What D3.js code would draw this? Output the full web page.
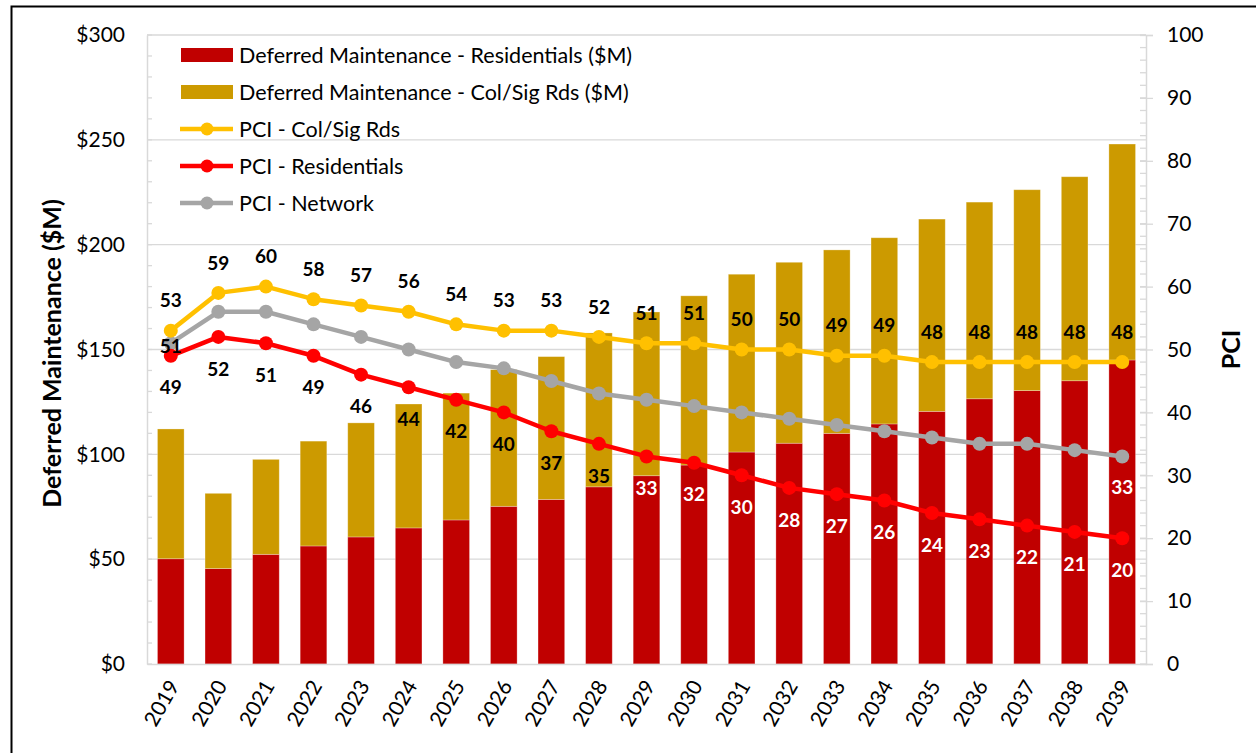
<!DOCTYPE html>
<html><head><meta charset="utf-8">
<script src="https://cdn.jsdelivr.net/npm/d3@7"></script>
<style>
html,body{margin:0;padding:0;background:#fff;}
svg{display:block;font-family:Lato,"Open Sans",sans-serif;}
</style></head>
<body>
<svg id="chart" width="1256" height="753"></svg>
<script>
const years = ["2019","2020","2021","2022","2023","2024","2025","2026","2027","2028","2029","2030","2031","2032","2033","2034","2035","2036","2037","2038","2039"];
const dmResidentials = [50.2,45.5,52.3,56.3,60.6,64.9,68.7,75.2,78.5,84.5,89.8,94.9,101.1,105.3,110.0,114.5,120.5,126.5,130.4,135.1,145.0];
const dmColSig = [61.9,35.9,45.3,50.0,54.4,59.1,60.5,65.2,68.1,73.4,78.1,80.7,84.8,86.3,87.5,88.8,91.7,93.8,95.8,97.3,103.0];
const pciColSig = [53,59,60,58,57,56,54,53,53,52,51,51,50,50,49,49,48,48,48,48,48];
const pciResidentials = [49,52,51,49,46,44,42,40,37,35,33,32,30,28,27,26,24,23,22,21,20];
const pciNetwork = [51,56,56,54,52,50,48,47,45,43,42,41,40,39,38,37,36,35,35,34,33];
const leftTicks = [0,50,100,150,200,250,300];
const rightTicks = [0,10,20,30,40,50,60,70,80,90,100];
const legendItems = ["Deferred Maintenance - Residentials ($M)","Deferred Maintenance - Col/Sig Rds ($M)","PCI - Col/Sig Rds","PCI - Residentials","PCI - Network"];

const C = {res:"#C00000", col:"#CC9A00", lYel:"#FFC000", lRed:"#FF0000", lGry:"#A5A5A5", grid:"#D9D9D9"};
const L = 147, R = 1146, T = 35, B = 664;

const svg = d3.select("#chart");
// outer border
svg.append("path").attr("d","M11.5,760 L11.5,6.5 L1260,6.5").attr("fill","none").attr("stroke","#000").attr("stroke-width",2);

const x = d3.scaleBand().domain(years).range([L,R]).paddingInner(0.44).paddingOuter(0.22);
const yL = d3.scaleLinear().domain([0,300]).range([B,T]);
const yR = d3.scaleLinear().domain([0,100]).range([B,T]);
const cx = d => x(d) + x.bandwidth()/2;

// gridlines
svg.append("g").selectAll("line").data(leftTicks.filter(v=>v>0)).join("line")
  .attr("x1",L).attr("x2",R).attr("y1",d=>yL(d)).attr("y2",d=>yL(d))
  .attr("stroke",C.grid).attr("stroke-width",1.3);

// left axis
const gL = svg.append("g").attr("transform",`translate(${L},0)`)
  .call(d3.axisLeft(yL).tickValues(leftTicks).tickSize(0).tickPadding(22).tickFormat(d=>"$"+d));
gL.select(".domain").attr("stroke",C.grid).attr("stroke-width",1.5);
gL.selectAll("text").attr("font-size","21px").attr("font-family","Lato").attr("fill","#000");
svg.append("g").selectAll("line").data(d3.range(0,301,10)).join("line")
  .attr("x1",L).attr("x2",L+5).attr("y1",d=>yL(d)).attr("y2",d=>yL(d))
  .attr("stroke",C.grid).attr("stroke-width",1.3);

// right axis
const gR = svg.append("g").attr("transform",`translate(${R},0)`)
  .call(d3.axisRight(yR).tickValues(rightTicks).tickSize(7).tickPadding(14));
gR.select(".domain").attr("stroke",C.grid).attr("stroke-width",1.5);
gR.selectAll(".tick line").attr("stroke",C.grid).attr("stroke-width",1.3).attr("x1",-6);
gR.selectAll("text").attr("font-size","21px").attr("font-family","Lato").attr("fill","#000");
svg.append("g").selectAll("line").data(d3.range(0,101,2)).join("line")
  .attr("x1",R-6).attr("x2",R).attr("y1",d=>yR(d)).attr("y2",d=>yR(d))
  .attr("stroke",C.grid).attr("stroke-width",1.3);

// bars
const gb = svg.append("g");
years.forEach((yr,i)=>{
  gb.append("rect").attr("x",x(yr)).attr("width",x.bandwidth())
    .attr("y",yL(dmResidentials[i])).attr("height",B-yL(dmResidentials[i]))
    .attr("fill",C.res).attr("stroke","#fff").attr("stroke-opacity",0.35).attr("stroke-width",0.8);
  gb.append("rect").attr("x",x(yr)).attr("width",x.bandwidth())
    .attr("y",yL(dmResidentials[i]+dmColSig[i])).attr("height",yL(dmResidentials[i])-yL(dmResidentials[i]+dmColSig[i]))
    .attr("fill",C.col).attr("stroke","#fff").attr("stroke-opacity",0.35).attr("stroke-width",0.8);
});

// bottom axis
const gX = svg.append("g").attr("transform",`translate(0,${B})`)
  .call(d3.axisBottom(x).tickSize(0).tickFormat(""));
gX.select(".domain").attr("stroke",C.grid).attr("stroke-width",1.5);
svg.append("g").selectAll("text").data(years).join("text")
  .attr("transform",d=>`translate(${cx(d)+3},${B+18}) rotate(-60)`)
  .attr("text-anchor","end").attr("dy","0.35em")
  .attr("font-size","21px").attr("fill","#000").text(d=>d);

// lines
function drawLine(vals,color){
  const g = svg.append("g");
  g.append("path").datum(vals).attr("fill","none").attr("stroke",color).attr("stroke-width",4.5)
    .attr("stroke-linejoin","round")
    .attr("d",d3.line().x((d,i)=>cx(years[i])).y(d=>yR(d)));
  g.selectAll("circle").data(vals).join("circle")
    .attr("cx",(d,i)=>cx(years[i])).attr("cy",d=>yR(d)).attr("r",7).attr("fill",color);
}
drawLine(pciNetwork,C.lGry);
drawLine(pciResidentials,C.lRed);
drawLine(pciColSig,C.lYel);

// data labels
const lbl = svg.append("g").attr("font-weight","bold").attr("font-size","19px").attr("text-anchor","middle");
function labelColor(i,yPos){ return yPos > yL(dmResidentials[i]) ? "#fff" : "#000"; }
pciColSig.forEach((v,i)=>{
  lbl.append("text").attr("x",cx(years[i])).attr("y",yR(v)-30).attr("dy","0.35em").attr("fill","#000").text(v);
});
pciResidentials.forEach((v,i)=>{
  const yy = yR(v)+32;
  lbl.append("text").attr("x",cx(years[i])).attr("y",yy).attr("dy","0.35em").attr("fill",labelColor(i,yy)).text(v);
});
[[0,3],[pciNetwork.length-1,31]].forEach(([i,off])=>{
  const yy = yR(pciNetwork[i])+off;
  lbl.append("text").attr("x",cx(years[i])).attr("y",yy).attr("dy","0.35em").attr("fill",labelColor(i,yy)).text(pciNetwork[i]);
});

// axis titles
svg.append("text").attr("transform",`translate(52,${(T+B)/2+4}) rotate(-90)`)
  .attr("text-anchor","middle").attr("dy","0.35em").attr("font-weight","bold").attr("font-size","25px").text("Deferred Maintenance ($M)");
svg.append("text").attr("transform",`translate(1231,${(T+B)/2}) rotate(-90)`)
  .attr("text-anchor","middle").attr("dy","0.35em").attr("font-weight","bold").attr("font-size","25px").text("PCI");

// legend
const lg = svg.append("g");
const swColors = [C.res,C.col,C.lYel,C.lRed,C.lGry];
legendItems.forEach((t,i)=>{
  const yy = 55 + i*37;
  if(i<2){
    lg.append("rect").attr("x",181).attr("y",yy-7).attr("width",52).attr("height",14).attr("fill",swColors[i]);
  } else {
    lg.append("line").attr("x1",180).attr("x2",233).attr("y1",yy).attr("y2",yy).attr("stroke",swColors[i]).attr("stroke-width",4.5);
    lg.append("circle").attr("cx",207).attr("cy",yy).attr("r",6.5).attr("fill",swColors[i]);
  }
  lg.append("text").attr("x",239).attr("y",yy).attr("dy","0.35em").attr("font-size","21.5px").attr("fill","#000").text(t);
});
</script>
</body></html>
